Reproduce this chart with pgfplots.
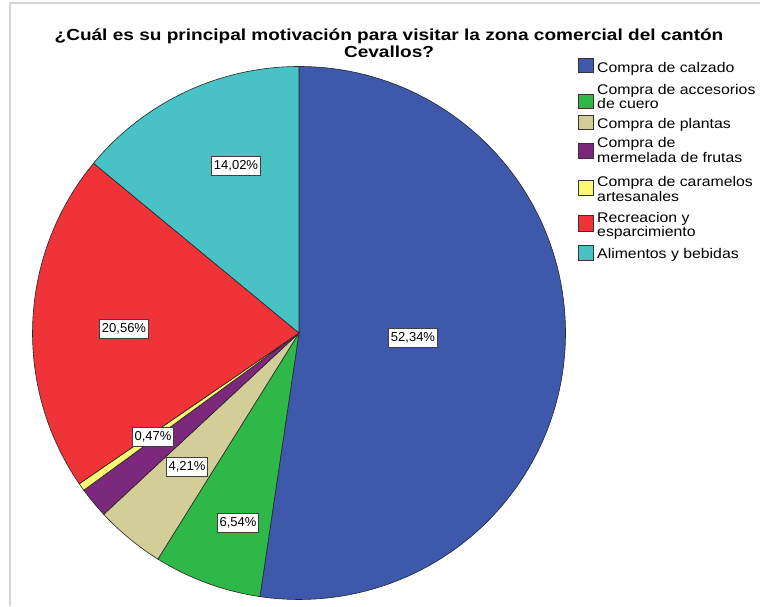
\documentclass[border=0pt]{standalone}
\usepackage{fontspec}
\setmainfont{Liberation Sans}
\usepackage{graphicx}
\usepackage{pgfplots}
\pgfplotsset{compat=1.18}
\definecolor{cCalz}{HTML}{3E58AC}
\definecolor{cCuero}{HTML}{2EB848}
\definecolor{cPlant}{HTML}{D3CE97}
\definecolor{cMerm}{HTML}{7C287D}
\definecolor{cCaram}{HTML}{FBF873}
\definecolor{cRecr}{HTML}{EF3338}
\definecolor{cAlim}{HTML}{48C2C5}
\definecolor{frameg}{HTML}{D4D4D4}
\newcommand{\R}{266.5pt}
\newcommand{\legtxt}[1]{\scalebox{1.13}[1]{#1}}
\newcommand{\ttltxt}[1]{\scalebox{1.19}[1]{#1}}
\tikzset{
  lab/.style={draw=black!75, line width=0.9pt, fill=white, inner xsep=2.5pt, inner ysep=0pt,
    minimum height=19pt, font=\fontsize{13}{13}\selectfont},
  leg/.style={anchor=base west, inner sep=0pt, font=\fontsize{14}{14}\selectfont},
  slice/.style={draw=black!85, line width=0.6pt, mark=none},
  lbox/.style={draw=black!80, line width=0.8pt}}
\begin{document}
\begin{tikzpicture}
\path[use as bounding box] (0,0) rectangle (760pt,606pt);
\begin{axis}[at={(0,0)}, anchor=south west, scale only axis, width=760pt, height=606pt,
  xmin=0, xmax=760, ymin=0, ymax=606, hide axis, clip=false]
% frame
\draw[frameg, line width=1.5pt] (axis cs:10,0) -- (axis cs:10,603) -- (axis cs:760,603);
% pie slices: percentages 52.34, 6.54, 4.21, 1.87, 0.47, 20.56, 14.02 (clockwise from top)
\addplot[slice, fill=cCalz] coordinates {(299,273)} -- ++({90-3.6*0}:\R)
  arc[start angle={90-3.6*0}, end angle={90-3.6*(52.34)}, radius=\R] -- cycle;
\addplot[slice, fill=cCuero] coordinates {(299,273)} -- ++({90-3.6*(52.34)}:\R)
  arc[start angle={90-3.6*(52.34)}, end angle={90-3.6*(52.34+6.54)}, radius=\R] -- cycle;
\addplot[slice, fill=cPlant] coordinates {(299,273)} -- ++({90-3.6*(52.34+6.54)}:\R)
  arc[start angle={90-3.6*(52.34+6.54)}, end angle={90-3.6*(52.34+6.54+4.21)}, radius=\R] -- cycle;
\addplot[slice, fill=cMerm] coordinates {(299,273)} -- ++({90-3.6*(52.34+6.54+4.21)}:\R)
  arc[start angle={90-3.6*(52.34+6.54+4.21)}, end angle={90-3.6*(52.34+6.54+4.21+1.87)}, radius=\R] -- cycle;
\addplot[slice, fill=cCaram] coordinates {(299,273)} -- ++({90-3.6*(52.34+6.54+4.21+1.87)}:\R)
  arc[start angle={90-3.6*(52.34+6.54+4.21+1.87)}, end angle={90-3.6*(52.34+6.54+4.21+1.87+0.47)}, radius=\R] -- cycle;
\addplot[slice, fill=cRecr] coordinates {(299,273)} -- ++({90-3.6*(52.34+6.54+4.21+1.87+0.47)}:\R)
  arc[start angle={90-3.6*(52.34+6.54+4.21+1.87+0.47)}, end angle={90-3.6*(52.34+6.54+4.21+1.87+0.47+20.56)}, radius=\R] -- cycle;
\addplot[slice, fill=cAlim] coordinates {(299,273)} -- ++({90-3.6*(52.34+6.54+4.21+1.87+0.47+20.56)}:\R)
  arc[start angle={90-3.6*(52.34+6.54+4.21+1.87+0.47+20.56)}, end angle={90-360}, radius=\R] -- cycle;
% slice labels
\node[lab] at (axis cs:413,268) {52,34\%};
\node[lab] at (axis cs:238,83) {6,54\%};
\node[lab] at (axis cs:187,139) {4,21\%};
\node[lab] at (axis cs:153,169) {0,47\%};
\node[lab] at (axis cs:124,277) {20,56\%};
\node[lab] at (axis cs:236,440) {14,02\%};
% title
\node[anchor=base, inner sep=0pt, font=\bfseries\fontsize{16}{16}\selectfont] at (axis cs:389,565)
  {\ttltxt{¿Cuál es su principal motivación para visitar la zona comercial del cantón}};
\node[anchor=base, inner sep=0pt, font=\bfseries\fontsize{16}{16}\selectfont] at (axis cs:389,548) {\ttltxt{Cevallos?}};
% legend
\draw[lbox, fill=cCalz] (axis cs:578,548) rectangle (axis cs:593,534);
\node[leg] at (axis cs:597,533) {\legtxt{Compra de calzado}};
\draw[lbox, fill=cCuero] (axis cs:578,512) rectangle (axis cs:593,498);
\node[leg] at (axis cs:597,511) {\legtxt{Compra de accesorios}};
\node[leg] at (axis cs:597,497) {\legtxt{de cuero}};
\draw[lbox, fill=cPlant] (axis cs:578,491) rectangle (axis cs:593,477);
\node[leg] at (axis cs:597,477) {\legtxt{Compra de plantas}};
\draw[lbox, fill=cMerm] (axis cs:578,463) rectangle (axis cs:593,448);
\node[leg] at (axis cs:597,458) {\legtxt{Compra de}};
\node[leg] at (axis cs:597,443) {\legtxt{mermelada de frutas}};
\draw[lbox, fill=cCaram] (axis cs:578,426) rectangle (axis cs:593,411);
\node[leg] at (axis cs:597,419) {\legtxt{Compra de caramelos}};
\node[leg] at (axis cs:597,404) {\legtxt{artesanales}};
\draw[lbox, fill=cRecr] (axis cs:578,391) rectangle (axis cs:593,375);
\node[leg] at (axis cs:597,383) {\legtxt{Recreacion y}};
\node[leg] at (axis cs:597,369) {\legtxt{esparcimiento}};
\draw[lbox, fill=cAlim] (axis cs:578,361) rectangle (axis cs:593,346);
\node[leg] at (axis cs:597,348) {\legtxt{Alimentos y bebidas}};
\end{axis}
\end{tikzpicture}
\end{document}
